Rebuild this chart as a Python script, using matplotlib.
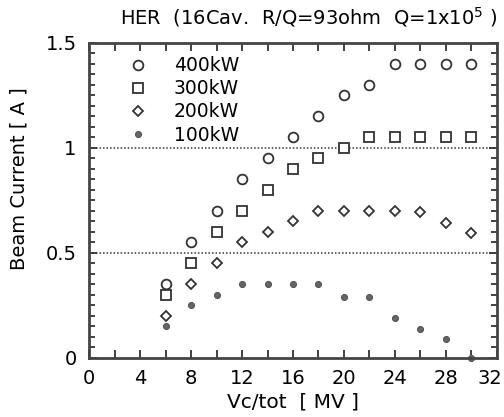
import matplotlib
matplotlib.use('Agg')
import matplotlib.pyplot as plt
from matplotlib.ticker import MultipleLocator, FixedLocator
import matplotlib.transforms as mtrans

plt.rcParams['font.family'] = ['DejaVu Sans']

# 加速電圧 [MV]
vc = [6, 8, 10, 12, 14, 16, 18, 20, 22, 24, 26, 28, 30]

# ビーム電流 [A]
i_400kw = [0.35, 0.55, 0.70, 0.85, 0.95, 1.05, 1.15, 1.25, 1.30, 1.40, 1.40, 1.40, 1.40]
i_300kw = [0.30, 0.45, 0.60, 0.70, 0.80, 0.90, 0.95, 1.00, 1.05, 1.05, 1.05, 1.05, 1.05]
i_200kw = [0.20, 0.35, 0.45, 0.55, 0.60, 0.65, 0.70, 0.70, 0.70, 0.70, 0.695, 0.645, 0.595]
i_100kw = [0.15, 0.25, 0.30, 0.35, 0.35, 0.35, 0.35, 0.29, 0.29, 0.19, 0.14, 0.09, 0.0]

labels = ['400kW', '300kW', '200kW', '100kW']
x_ticks = [0, 4, 8, 12, 16, 20, 24, 28, 32]
y_ticks = [0, 0.5, 1, 1.5]
y_tick_labels = ['0', '0.5', '1', '1.5']

ink = '#333333'

fig = plt.figure(figsize=(5.04, 4.17), dpi=100)
ax = fig.add_axes([0.1766, 0.1415, 0.8095, 0.7554])

ax.plot(vc, i_400kw, 'o', ms=7, mfc='white', mec=ink, mew=1.3, label=labels[0], clip_on=False)
ax.plot(vc, i_300kw, 's', ms=7, mfc='white', mec=ink, mew=1.3, label=labels[1], clip_on=False)
ax.plot(vc, i_200kw, 'D', ms=5.5, mfc='white', mec=ink, mew=1.3, label=labels[2], clip_on=False)
ax.plot(vc, i_100kw, 'o', ms=4.3, mfc='#666666', mec='#555555', mew=0.8, label=labels[3], clip_on=False)

# 0.5A, 1A の点線
for yv in [0.5, 1.0]:
    ax.axhline(yv, color=ink, lw=1.1, ls=(0, (1.0, 1.3)), zorder=0)

ax.set_xlim(0, 32)
ax.set_ylim(0, 1.5)
ax.xaxis.set_major_locator(FixedLocator(x_ticks))
ax.xaxis.set_minor_locator(MultipleLocator(2))
ax.yaxis.set_major_locator(FixedLocator(y_ticks))
ax.set_yticklabels(y_tick_labels)
ax.yaxis.set_minor_locator(MultipleLocator(0.05))

ax.tick_params(which='both', direction='in', top=True, right=True, color=ink, width=1.3)
ax.tick_params(which='major', length=6, labelsize=14)
ax.tick_params(axis='x', which='major', pad=8)
ax.tick_params(axis='y', which='major', pad=9)
ax.tick_params(axis='x', which='minor', length=6)
ax.tick_params(axis='y', which='minor', length=4)
for s in ax.spines.values():
    s.set_linewidth(2)
    s.set_color('#444444')

# 右端の "32" は枠内に収める
fig.canvas.draw()
last = ax.get_xticklabels()[-1]
last.set_transform(last.get_transform() + mtrans.ScaledTranslation(-7 / 100, 0, fig.dpi_scale_trans))

ax.set_xlabel('Vc/tot  [ MV ]', fontsize=14.5, labelpad=3)
ax.set_ylabel('Beam Current [ A ]', fontsize=14)
ax.yaxis.set_label_coords(-0.148, 0.57)
fig.text(0.613, 0.958, r'HER  (16Cav.  R/Q=93ohm  Q=1x10$^5$ )', fontsize=14,
         ha='center', va='center')

ax.legend(loc='upper left', bbox_to_anchor=(0.075, 0.982), frameon=False, fontsize=13.5,
          handletextpad=1.3, labelspacing=0.22, borderaxespad=0, handlelength=1.2)

fig.savefig('out.png', dpi=100)
